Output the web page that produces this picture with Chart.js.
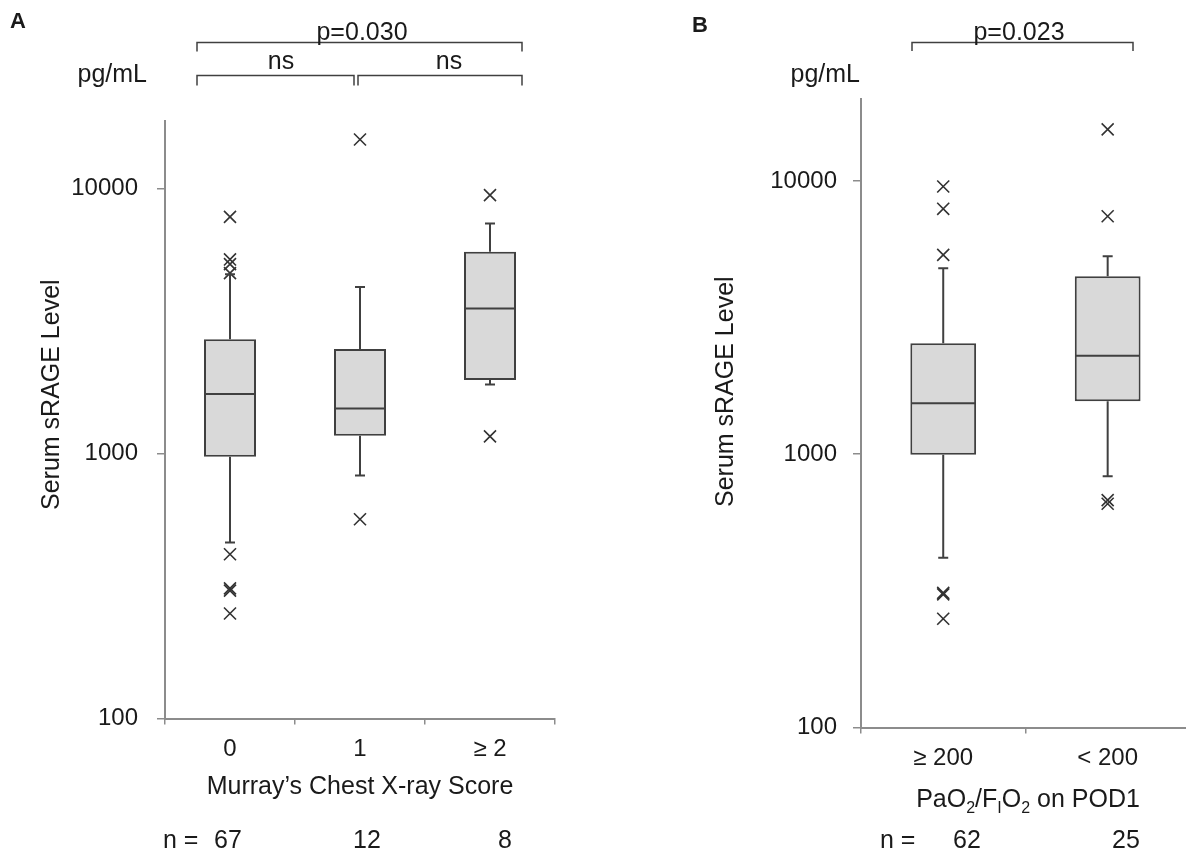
<!DOCTYPE html>
<html lang="en">
<head>
<meta charset="UTF-8">
<title>Serum sRAGE Level</title>
<script src="https://cdn.jsdelivr.net/npm/chart.js"></script>
<style>
    html, body { margin: 0; padding: 0; background: #fff; overflow: hidden; }
    body { width: 1186px; height: 853px; position: relative; }
    canvas { position: absolute; top: 0; }
    #chartA { left: 0; }
    #chartB { left: 600px; }
</style>
</head>
<body>
<canvas id="chartA" width="600" height="853"></canvas>
<canvas id="chartB" width="600" height="853"></canvas>
<script>
// Panel A: Murray's chest X-ray score
var catsA = ['0', '1', '≥ 2'];
var loA = [462, 827, 1824];
var q1A = [972, 1168, 1894];
var medA = [1677, 1481, 3532];
var q3A = [2698, 2479, 5775];
var hiA = [4750, 4249, 7391];
var outA = [
    [7826, 5404, 5189, 4800, 417, 310, 304, 249],
    [15330, 565],
    [9450, 1161]
];
var nA = [67, 12, 8];

// Panel B: PaO2/FIO2 on POD1
var catsB = ['≥ 200', '< 200'];
var loB = [418, 830];
var q1B = [996, 1563];
var medB = [1535, 2291];
var q3B = [2549, 4479];
var hiB = [4793, 5304];
var outB = [
    [9545, 7909, 5366, 311, 307, 250],
    [15440, 7430, 679, 659]
];
var nB = [62, 25];

var yTicks = [100, 1000, 10000];

var FONT = "'Liberation Sans', Arial, sans-serif";
var INK = '#1a1a1a';
var LINE = '#404040';
var AXIS = '#8c8c8c';

Chart.defaults.font.family = FONT;
Chart.defaults.color = INK;

// whiskers, caps and median lines, drawn from the bar positions
function whiskers(lo, med, q1, q3, hi) {
    return {
        id: 'whiskers',
        afterDatasetsDraw: function(chart) {
            var ctx = chart.ctx;
            var x = chart.scales.x, y = chart.scales.y;
            var bars = chart.getDatasetMeta(0).data;
            ctx.save();
            ctx.strokeStyle = LINE;
            ctx.lineWidth = 2;
            bars.forEach(function(bar, i) {
                var cx = x.getPixelForValue(i);
                var half = bar.width / 2;
                var cap = 5;
                var yLo = y.getPixelForValue(lo[i]);
                var yHi = y.getPixelForValue(hi[i]);
                var yMed = y.getPixelForValue(med[i]);
                ctx.beginPath();
                ctx.moveTo(cx, y.getPixelForValue(q3[i]));
                ctx.lineTo(cx, yHi);
                ctx.moveTo(cx - cap, yHi);
                ctx.lineTo(cx + cap, yHi);
                ctx.moveTo(cx, y.getPixelForValue(q1[i]));
                ctx.lineTo(cx, yLo);
                ctx.moveTo(cx - cap, yLo);
                ctx.lineTo(cx + cap, yLo);
                ctx.moveTo(cx - half + 1, yMed);
                ctx.lineTo(cx + half - 1, yMed);
                ctx.stroke();
            });
            ctx.restore();
        }
    };
}

function bracket(ctx, x1, x2, y, drop) {
    ctx.beginPath();
    ctx.moveTo(x1, y + drop);
    ctx.lineTo(x1, y);
    ctx.lineTo(x2, y);
    ctx.lineTo(x2, y + drop);
    ctx.stroke();
}

function outlierPoints(cats, out) {
    var pts = [];
    out.forEach(function(vals, i) {
        vals.forEach(function(v) { pts.push({ x: cats[i], y: v }); });
    });
    return pts;
}

function makeChart(id, cats, lo, q1, med, q3, hi, out, yMax, yWidth, yPad, padding, annot) {
    return new Chart(document.getElementById(id), {
        type: 'bar',
        data: {
            labels: cats,
            datasets: [{
                data: q1.map(function(v, i) { return [v, q3[i]]; }),
                backgroundColor: '#d9d9d9',
                borderColor: LINE,
                borderWidth: 2,
                borderSkipped: false,
                barPercentage: 0.4,
                categoryPercentage: 1
            }, {
                type: 'line',
                data: outlierPoints(cats, out),
                showLine: false,
                pointStyle: 'crossRot',
                pointRadius: 8.5,
                pointHoverRadius: 8.5,
                pointBorderColor: '#333',
                pointBorderWidth: 1.6,
                borderColor: '#333'
            }]
        },
        options: {
            responsive: false,
            animation: false,
            layout: { padding: padding },
            scales: {
                x: {
                    grid: { display: true, drawOnChartArea: false, drawTicks: true, tickLength: 6, color: AXIS, lineWidth: 1.5, offset: true },
                    border: { display: true, color: AXIS, width: 2 },
                    ticks: { font: { size: 24 }, color: INK, padding: 10 },
                    afterFit: function(s) { s.height = 60; }
                },
                y: {
                    type: 'logarithmic',
                    min: 100,
                    max: yMax,
                    grid: { display: true, drawOnChartArea: false, drawTicks: true, tickLength: 8, color: AXIS, lineWidth: 1.5 },
                    border: { display: true, color: AXIS, width: 2 },
                    ticks: {
                        font: { size: 24 },
                        color: INK,
                        padding: yPad,
                        callback: function(v) { return String(v); }
                    },
                    afterBuildTicks: function(s) {
                        s.ticks = yTicks.map(function(v) { return { value: v }; });
                    },
                    afterFit: function(s) { s.width = yWidth; }
                }
            },
            plugins: {
                legend: { display: false },
                tooltip: { enabled: false }
            }
        },
        plugins: [whiskers(lo, med, q1, q3, hi), annot]
    });
}

function yTitle(ctx, x, y) {
    ctx.save();
    ctx.translate(x, y);
    ctx.rotate(-Math.PI / 2);
    ctx.textAlign = 'left';
    ctx.fillText('Serum sRAGE Level', 0, 0);
    ctx.restore();
}

var annotA = {
    id: 'annotA',
    afterDraw: function(chart) {
        var ctx = chart.ctx;
        ctx.save();
        ctx.fillStyle = INK;
        ctx.strokeStyle = LINE;
        ctx.lineWidth = 1.5;
        ctx.textBaseline = 'alphabetic';

        ctx.font = 'bold 22px ' + FONT;
        ctx.fillText('A', 10, 28);

        ctx.font = '25px ' + FONT;
        ctx.textAlign = 'right';
        ctx.fillText('pg/mL', 147, 82);

        bracket(ctx, 197, 522, 42.5, 9);
        bracket(ctx, 197, 354, 75.5, 10);
        bracket(ctx, 358, 522, 75.5, 10);
        ctx.textAlign = 'center';
        ctx.fillText('p=0.030', 362, 39.5);
        ctx.fillText('ns', 281, 69);
        ctx.fillText('ns', 449, 69);

        ctx.fillText('Murray\u2019s Chest X-ray Score', 360, 794);

        ctx.textAlign = 'left';
        ctx.fillText('n =', 163, 848);
        ctx.textAlign = 'center';
        var nx = [228, 367, 505];
        nA.forEach(function(n, i) { ctx.fillText(String(n), nx[i], 848); });

        yTitle(ctx, 59, 510);
        ctx.restore();
    }
};

var annotB = {
    id: 'annotB',
    afterDraw: function(chart) {
        var ctx = chart.ctx;
        ctx.save();
        ctx.translate(-600, 0);
        ctx.fillStyle = INK;
        ctx.strokeStyle = LINE;
        ctx.lineWidth = 1.5;
        ctx.textBaseline = 'alphabetic';

        ctx.font = 'bold 22px ' + FONT;
        ctx.fillText('B', 692, 32);

        ctx.font = '25px ' + FONT;
        ctx.textAlign = 'right';
        ctx.fillText('pg/mL', 860, 82);

        bracket(ctx, 912, 1133, 42.5, 8.5);
        ctx.textAlign = 'center';
        ctx.fillText('p=0.023', 1019, 39.5);

        // x title with subscripts
        var parts = [['PaO', 0], ['2', 1], ['/F', 0], ['I', 1], ['O', 0], ['2', 1], [' on POD1', 0]];
        var big = '25px ' + FONT, small = '16px ' + FONT;
        var total = 0;
        parts.forEach(function(p) {
            ctx.font = p[1] ? small : big;
            total += ctx.measureText(p[0]).width;
        });
        var px = 1028 - total / 2;
        ctx.textAlign = 'left';
        parts.forEach(function(p) {
            ctx.font = p[1] ? small : big;
            ctx.fillText(p[0], px, p[1] ? 813 : 806.5);
            px += ctx.measureText(p[0]).width;
        });

        ctx.font = big;
        ctx.fillText('n =', 880, 848);
        ctx.textAlign = 'center';
        var nx = [967, 1126];
        nB.forEach(function(n, i) { ctx.fillText(String(n), nx[i], 848); });

        yTitle(ctx, 733, 507);
        ctx.restore();
    }
};

makeChart('chartA', catsA, loA, q1A, medA, q3A, hiA, outA, 18000, 125, 19,
    { left: 40, right: 45, top: 121, bottom: 74.5 }, annotA);
makeChart('chartB', catsB, loB, q1B, medB, q3B, hiB, outB, 20000, 150, 16,
    { left: 111, right: 6, top: 98.7, bottom: 65.5 }, annotB);
</script>
</body>
</html>
